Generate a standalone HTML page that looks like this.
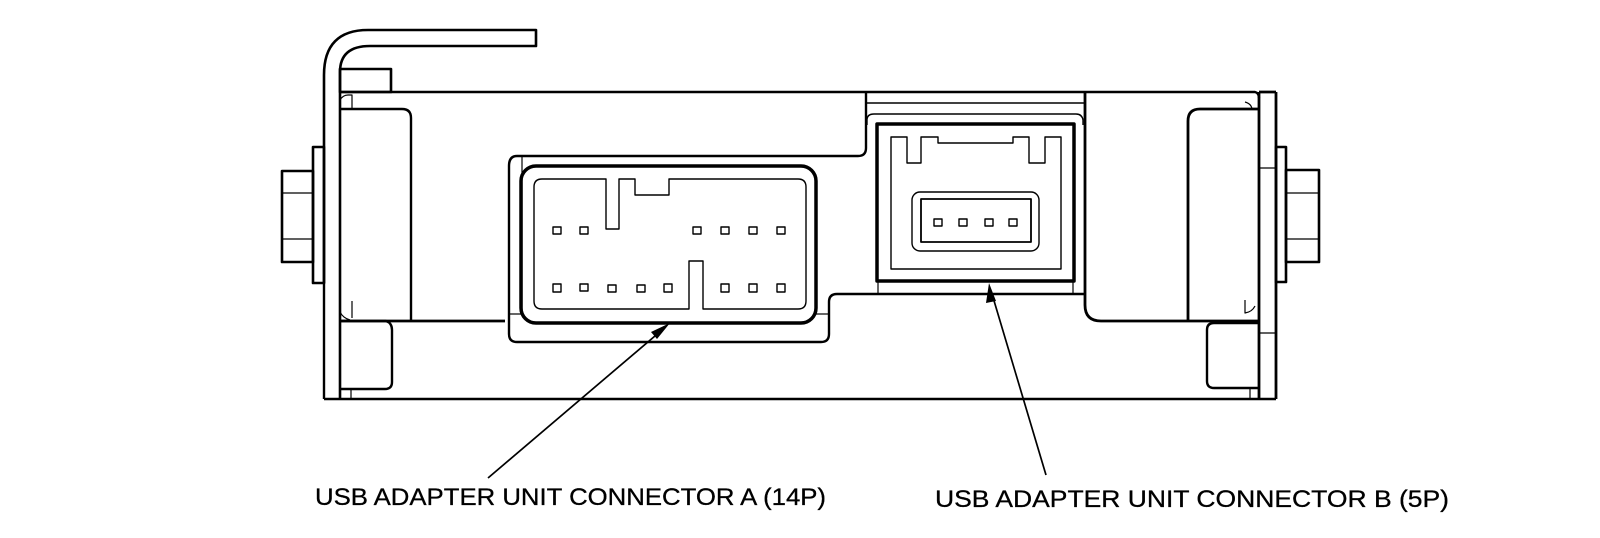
<!DOCTYPE html>
<html><head><meta charset="utf-8"><style>
html,body{margin:0;padding:0;background:#fff;}
svg{display:block;}
</style></head><body>
<svg width="1600" height="538" viewBox="0 0 1600 538" xmlns="http://www.w3.org/2000/svg" fill="none" stroke="#000" stroke-linejoin="round">
<!-- left bracket -->
<path d="M324,283 L324,75 Q324,30 368,30 L536,30 L536,46 L370,46 Q340,46 340,72 L340,399" stroke-width="2.6"/>
<rect x="340" y="69" width="51" height="23" stroke-width="2.6"/>
<!-- body outline -->
<path d="M340,92 L1255,92 Q1259,93 1259,98" stroke-width="2.4"/>
<line x1="324" y1="283" x2="324" y2="399" stroke-width="2.4"/>
<line x1="324" y1="399" x2="1276" y2="399" stroke-width="2.4"/>
<line x1="1259" y1="92" x2="1259" y2="399" stroke-width="2.8"/>
<line x1="1276" y1="92" x2="1276" y2="399" stroke-width="2.8"/>
<line x1="1259" y1="92" x2="1276" y2="92" stroke-width="2.8"/>
<line x1="1259" y1="168" x2="1276" y2="168" stroke-width="1.2"/>
<line x1="1259" y1="333" x2="1276" y2="333" stroke-width="1.2"/>
<!-- left nut -->
<rect x="313" y="147" width="11" height="136" stroke-width="2.6"/>
<rect x="282" y="171" width="31" height="91" stroke-width="2.6"/>
<line x1="282" y1="193" x2="313" y2="193" stroke-width="1.2"/>
<line x1="282" y1="239" x2="313" y2="239" stroke-width="1.2"/>
<!-- right nut -->
<rect x="1276" y="147" width="10" height="135" stroke-width="2.6"/>
<rect x="1286" y="170" width="33" height="92" stroke-width="2.6"/>
<line x1="1286" y1="193" x2="1319" y2="193" stroke-width="1.2"/>
<line x1="1286" y1="239" x2="1319" y2="239" stroke-width="1.2"/>
<!-- left panels -->
<path d="M340,109 L402,109 Q411,109 411,118 L411,321" stroke-width="2.4"/>
<line x1="340" y1="321" x2="505" y2="321" stroke-width="2.8"/>
<path d="M340,321 L386,321 Q392,323 392,330 L392,382 Q392,389 385,389 L340,389" stroke-width="2.4"/>
<line x1="351" y1="389" x2="351" y2="399" stroke-width="1.2"/>
<path d="M340,100 Q343,95 348,95 L352,95 L352,109" stroke-width="1.2"/>
<path d="M352,301 L352,318 M340,312 Q343,318 350,320" stroke-width="1.2"/>
<!-- connector A housing -->
<path d="M866,92 L866,148 Q866,156 858,156 L517,156 Q509,156 509,166 L509,334 Q509,342 517,342 L821,342 Q829,342 829,334 L829,302 Q829,294 837,294 L1085,294" stroke-width="2.4"/>
<line x1="522" y1="156" x2="522" y2="314" stroke-width="1.2"/>
<line x1="509" y1="314" x2="521" y2="314" stroke-width="1.2"/>
<line x1="816" y1="314" x2="829" y2="314" stroke-width="1.2"/>
<rect x="521" y="166" width="295" height="157" rx="15" stroke-width="3.5"/>
<path d="M542,179 L606,179 L606,229 L619,229 L619,179 L635,179 L635,195 L669,195 L669,179 L798,179 Q806,179 806,187 L806,301 Q806,309 798,309 L703,309 L703,261 L689,261 L689,309 L542,309 Q534,309 534,301 L534,187 Q534,179 542,179 Z" stroke-width="1.4"/>
<g stroke-width="1.4">
<rect x="553" y="227" width="8" height="7"/><rect x="580" y="227" width="8" height="7"/>
<rect x="693" y="227" width="8" height="7"/><rect x="721" y="227" width="8" height="7"/>
<rect x="749" y="227" width="8" height="7"/><rect x="777" y="227" width="8" height="7"/>
<rect x="553" y="284" width="8" height="8"/><rect x="580" y="284" width="8" height="7"/>
<rect x="608" y="285" width="8" height="7"/><rect x="637" y="285" width="8" height="7"/>
<rect x="664" y="284" width="8" height="8"/><rect x="721" y="284" width="8" height="8"/>
<rect x="749" y="284" width="8" height="8"/><rect x="777" y="284" width="8" height="8"/>
</g>
<!-- connector B region -->
<line x1="866" y1="103" x2="1085" y2="103" stroke-width="1.4"/>
<path d="M1085,92 L1085,305 Q1085,321 1101,321 L1259,321" stroke-width="2.8"/>
<path d="M867,125 L867,120 Q867,114 874,114 L1076,114 Q1082,114 1083,120 L1083,125" stroke-width="1.4"/>
<rect x="877" y="124" width="197" height="157" stroke-width="3.5"/>
<line x1="878" y1="281" x2="878" y2="294" stroke-width="1.2"/>
<line x1="1073" y1="281" x2="1073" y2="294" stroke-width="1.2"/>
<path d="M891,137 L907,137 L907,163 L921,163 L921,137 L938,137 L938,143 L1013,143 L1013,137 L1029,137 L1029,163 L1045,163 L1045,137 L1061,137 L1061,269 L891,269 Z" stroke-width="1.4"/>
<rect x="912" y="192" width="127" height="59" rx="8" stroke-width="1.4"/>
<rect x="921" y="199" width="110" height="43" stroke-width="1.8"/>
<g stroke-width="1.4">
<rect x="934" y="219" width="8" height="7"/><rect x="959" y="219" width="8" height="7"/>
<rect x="985" y="219" width="8" height="7"/><rect x="1009" y="219" width="8" height="7"/>
</g>
<!-- right panels -->
<path d="M1259,109 L1200,109 Q1188,109 1188,121 L1188,321" stroke-width="2.8"/>
<path d="M1259,323 L1214,323 Q1207,323 1207,330 L1207,381 Q1207,388 1214,388 L1259,388" stroke-width="2.4"/>
<line x1="1250" y1="388" x2="1250" y2="399" stroke-width="1.2"/>
<path d="M1245,102 Q1252,104 1252,110 M1245,300 L1245,313 Q1252,312 1255,306" stroke-width="1.2"/>
<!-- arrows -->
<line x1="488" y1="478" x2="662" y2="330" stroke-width="1.7"/>
<polygon points="670,323 651,332 657,339" fill="#000" stroke="none"/>
<line x1="1046" y1="475" x2="992" y2="294" stroke-width="1.7"/>
<polygon points="989,283 986,303 996,301" fill="#000" stroke="none"/>
<!-- labels -->
<g font-family="Liberation Sans, sans-serif" font-size="24" fill="#000" stroke="#000" stroke-width="0.3">
<text x="315" y="505" textLength="511" lengthAdjust="spacingAndGlyphs">USB ADAPTER UNIT CONNECTOR A (14P)</text>
<text x="935" y="507" textLength="514" lengthAdjust="spacingAndGlyphs">USB ADAPTER UNIT CONNECTOR B (5P)</text>
</g>
</svg>
</body></html>
